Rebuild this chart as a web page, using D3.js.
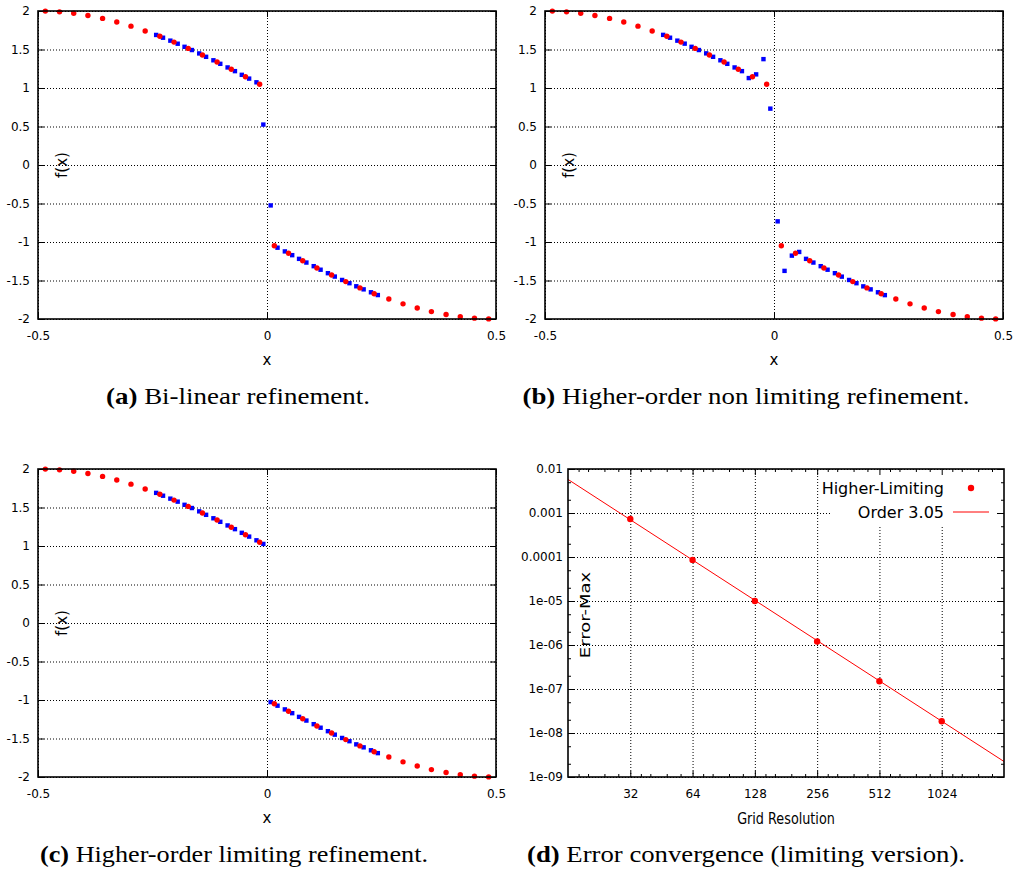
<!DOCTYPE html>
<html><head><meta charset="utf-8">
<script src="https://cdn.jsdelivr.net/npm/d3@7"></script>
<style>
body{margin:0;background:#fff;}
svg{display:block;}
</style></head><body>
<svg id="chart" width="1019" height="876"></svg>
<script>
// ---------- data ----------
const coarseX = [-0.484,-0.453,-0.422,-0.391,-0.359,-0.328,-0.297,-0.266,-0.234,-0.203,-0.172,-0.141,-0.109,-0.078,-0.047,-0.016,
                 0.016,0.047,0.078,0.109,0.141,0.172,0.203,0.234,0.266,0.297,0.328,0.359,0.391,0.422,0.453,0.484];
const coarseF = [1.999,1.989,1.970,1.942,1.904,1.858,1.803,1.741,1.672,1.596,1.514,1.428,1.337,1.243,1.147,1.049,
                 -1.049,-1.147,-1.243,-1.337,-1.428,-1.514,-1.596,-1.672,-1.741,-1.803,-1.858,-1.904,-1.942,-1.970,-1.989,-1.999];
const fineX = [-0.242,-0.227,-0.211,-0.195,-0.180,-0.164,-0.148,-0.133,-0.117,-0.102,-0.086,-0.070,-0.055,-0.039,-0.023,-0.008,
               0.008,0.023,0.039,0.055,0.070,0.086,0.102,0.117,0.133,0.148,0.164,0.180,0.195,0.211,0.227,0.242];
const fineBilinear = [1.689,1.653,1.615,1.575,1.535,1.493,1.449,1.405,1.360,1.314,1.267,1.219,1.171,1.122,1.074,0.525,
                      -0.525,-1.074,-1.122,-1.171,-1.219,-1.267,-1.314,-1.360,-1.405,-1.449,-1.493,-1.535,-1.575,-1.615,-1.653,-1.689];
const fineHigherNonLimiting = [1.690,1.653,1.615,1.576,1.535,1.493,1.450,1.405,1.360,1.314,1.267,1.219,1.129,1.177,1.375,0.732,
                      -0.732,-1.375,-1.177,-1.129,-1.219,-1.267,-1.314,-1.360,-1.405,-1.450,-1.493,-1.535,-1.576,-1.615,-1.653,-1.690];
const fineHigherLimiting = [1.690,1.653,1.615,1.576,1.535,1.493,1.450,1.405,1.360,1.314,1.267,1.219,1.171,1.122,1.074,1.027,
                      -1.027,-1.074,-1.122,-1.171,-1.219,-1.267,-1.314,-1.360,-1.405,-1.450,-1.493,-1.535,-1.576,-1.615,-1.653,-1.690];
const xTicksF = [-0.5, 0, 0.5];
const xTickLabelsF = ["-0.5", "0", "0.5"];
const yTicksF = [2, 1.5, 1, 0.5, 0, -0.5, -1, -1.5, -2];
const yTickLabelsF = ["2", "1.5", "1", "0.5", "0", "-0.5", "-1", "-1.5", "-2"];

const gridRes = [32, 64, 128, 256, 512, 1024];
const errMax = [7.3e-4, 8.6e-5, 1.0e-5, 1.2e-6, 1.5e-7, 1.85e-8];
const fitRes = [16, 2048];
const fitErr = [5.8e-3, 2.25e-9];
const errTicks = [1e-2, 1e-3, 1e-4, 1e-5, 1e-6, 1e-7, 1e-8, 1e-9];
const errTickLabels = ["0.01", "0.001", "0.0001", "1e-05", "1e-06", "1e-07", "1e-08", "1e-09"];
const resTickLabels = ["32", "64", "128", "256", "512", "1024"];
const errMinorMult = [2, 5];
const resMinorMult = [1.125, 1.25, 1.5, 1.75];
const legendLabels = ["Higher-Limiting", "Order 3.05"];
const captions = [
  ["(a)", " Bi-linear refinement."],
  ["(b)", " Higher-order non limiting refinement."],
  ["(c)", " Higher-order limiting refinement."],
  ["(d)", " Error convergence (limiting version)."]
];

// ---------- drawing ----------
const SANS = "'DejaVu Sans', Verdana, sans-serif";
const SERIF = "'Liberation Serif', 'Times New Roman', serif";
const svg = d3.select("#chart");
svg.append("rect").attr("width", 1019).attr("height", 876).attr("fill", "#fff");

function gridStyle(sel) {
  sel.select(".domain").remove();
  sel.selectAll("line").attr("stroke", "#000").attr("stroke-width", 1).attr("stroke-dasharray", "1,2");
}
function tickStyle(sel, fs) {
  sel.select(".domain").remove();
  sel.selectAll("line").attr("stroke", "#000").attr("stroke-width", 1);
  sel.selectAll("text").attr("fill", "#000").style("font-family", SANS).style("font-size", (fs || 12) + "px");
}
function label(map, keys) { return d => map[keys.indexOf(d)]; }

function caption(cx, cy, width, parts) {
  const t = svg.append("text").attr("x", cx).attr("y", cy).attr("text-anchor", "middle")
    .style("font-family", SERIF).style("font-size", "23px").attr("fill", "#000")
    .attr("textLength", width).attr("lengthAdjust", "spacingAndGlyphs");
  t.append("tspan").style("font-weight", "bold").text(parts[0]);
  t.append("tspan").text(parts[1]);
}

function fxPanel(left, top, fineVals) {
  const W = 458, H = 308;
  const g = svg.append("g").attr("transform", `translate(${left},${top})`);
  const x = d3.scaleLinear().domain([-0.5, 0.5]).range([0, W]);
  const y = d3.scaleLinear().domain([-2, 2]).range([H, 0]);

  g.append("g").call(d3.axisLeft(y).tickValues(yTicksF).tickSize(-W).tickFormat("")).call(gridStyle);
  g.append("g").attr("transform", `translate(0,${H})`)
    .call(d3.axisBottom(x).tickValues(xTicksF).tickSize(-H).tickFormat("")).call(gridStyle);

  g.append("g").call(d3.axisLeft(y).tickValues(yTicksF).tickSize(-6).tickPadding(8)
    .tickFormat(label(yTickLabelsF, yTicksF))).call(s => tickStyle(s, 12));
  g.append("g").attr("transform", `translate(${W},0)`)
    .call(d3.axisRight(y).tickValues(yTicksF).tickSize(-6).tickFormat("")).call(s => tickStyle(s));
  g.append("g").call(d3.axisTop(x).tickValues(xTicksF).tickSize(-6).tickFormat("")).call(s => tickStyle(s));
  g.append("g").attr("transform", `translate(0,${H})`)
    .call(d3.axisBottom(x).tickValues(xTicksF).tickSize(-6).tickPadding(12)
    .tickFormat(label(xTickLabelsF, xTicksF))).call(s => tickStyle(s, 12));

  // fine (blue squares)
  const s = 4.4;
  g.append("g").selectAll("rect").data(fineX).join("rect")
    .attr("x", (d) => x(d) - s / 2).attr("y", (d, i) => y(fineVals[i]) - s / 2)
    .attr("width", s).attr("height", s).attr("fill", "#0000ff");
  // coarse (red dots)
  g.append("g").selectAll("circle").data(coarseX).join("circle")
    .attr("cx", d => x(d)).attr("cy", (d, i) => y(coarseF[i])).attr("r", 2.7).attr("fill", "#ff0000");

  g.append("rect").attr("width", W).attr("height", H).attr("fill", "none")
    .attr("stroke", "#000").attr("stroke-width", 1.6);

  g.append("text").attr("x", W / 2).attr("y", H + 46).attr("text-anchor", "middle")
    .style("font-family", SANS).style("font-size", "15px").text("x");
  g.append("text").attr("transform", `translate(24,${154}) rotate(-90)`).attr("text-anchor", "middle")
    .attr("dy", "0.35em").style("font-family", SANS).style("font-size", "15px").text("f(x)");
}

function errPanel(left, top) {
  const W = 436, H = 308;
  const g = svg.append("g").attr("transform", `translate(${left},${top})`);
  const x = d3.scaleLog().base(2).domain([16, 2048]).range([0, W]);
  const y = d3.scaleLog().domain([1e-9, 1e-2]).range([H, 0]);

  g.append("g").call(d3.axisLeft(y).tickValues(errTicks).tickSize(-W).tickFormat("")).call(gridStyle);
  g.append("g").attr("transform", `translate(0,${H})`)
    .call(d3.axisBottom(x).tickValues(gridRes).tickSize(-H).tickFormat("")).call(gridStyle);

  // legend box hides grid
  g.append("rect").attr("x", 264).attr("y", 1).attr("width", 165).attr("height", 55).attr("fill", "#fff");

  const yMinor = [];
  errTicks.slice(1).forEach(t => errMinorMult.forEach(m => yMinor.push(t * m)));
  const xMinor = [];
  [16].concat(gridRes).forEach(t => resMinorMult.forEach(m => { if (t * m < 2048) xMinor.push(t * m); }));

  g.append("g").call(d3.axisLeft(y).tickValues(errTicks).tickSize(-6).tickPadding(5)
    .tickFormat(label(errTickLabels, errTicks))).call(s => tickStyle(s, 12));
  g.append("g").call(d3.axisLeft(y).tickValues(yMinor).tickSize(-3).tickFormat("")).call(s => tickStyle(s));
  g.append("g").attr("transform", `translate(${W},0)`)
    .call(d3.axisRight(y).tickValues(errTicks).tickSize(-6).tickFormat("")).call(s => tickStyle(s));
  g.append("g").attr("transform", `translate(${W},0)`)
    .call(d3.axisRight(y).tickValues(yMinor).tickSize(-3).tickFormat("")).call(s => tickStyle(s));
  g.append("g").attr("transform", `translate(0,${H})`)
    .call(d3.axisBottom(x).tickValues(gridRes).tickSize(-6).tickPadding(12)
    .tickFormat(label(resTickLabels, gridRes))).call(s => tickStyle(s, 12));
  g.append("g").attr("transform", `translate(0,${H})`)
    .call(d3.axisBottom(x).tickValues(xMinor).tickSize(-3).tickFormat("")).call(s => tickStyle(s));
  g.append("g").call(d3.axisTop(x).tickValues(gridRes).tickSize(-6).tickFormat("")).call(s => tickStyle(s));
  g.append("g").call(d3.axisTop(x).tickValues(xMinor).tickSize(-3).tickFormat("")).call(s => tickStyle(s));

  const line = d3.line().x(d => x(d[0])).y(d => y(d[1]));
  g.append("path").datum(fitRes.map((r, i) => [r, fitErr[i]])).attr("d", line)
    .attr("fill", "none").attr("stroke", "#ff0000").attr("stroke-width", 1);
  g.append("g").selectAll("circle").data(gridRes).join("circle")
    .attr("cx", d => x(d)).attr("cy", (d, i) => y(errMax[i])).attr("r", 3.2).attr("fill", "#ff0000");

  g.append("rect").attr("width", W).attr("height", H).attr("fill", "none")
    .attr("stroke", "#000").attr("stroke-width", 1.6);

  // legend
  g.append("text").attr("x", 376).attr("y", 25).attr("text-anchor", "end")
    .style("font-family", SANS).style("font-size", "16px").text(legendLabels[0]);
  g.append("circle").attr("cx", 403).attr("cy", 19).attr("r", 3.2).attr("fill", "#ff0000");
  g.append("text").attr("x", 376).attr("y", 49).attr("text-anchor", "end")
    .style("font-family", SANS).style("font-size", "16px").text(legendLabels[1]);
  g.append("line").attr("x1", 385).attr("x2", 421).attr("y1", 43).attr("y2", 43)
    .attr("stroke", "#ff0000").attr("stroke-width", 1);

  g.append("text").attr("transform", `translate(218,${H + 47}) scale(0.8,1)`).attr("text-anchor", "middle")
    .style("font-family", SANS).style("font-size", "16px").text("Grid Resolution");
  g.append("text").attr("transform", `translate(17,${146}) rotate(-90) scale(1,0.8)`).attr("text-anchor", "middle")
    .attr("dy", "0.35em").style("font-family", SANS).style("font-size", "18px").text("Error-Max");
}

fxPanel(38, 11, fineBilinear);
fxPanel(545, 11, fineHigherNonLimiting);
fxPanel(38, 469, fineHigherLimiting);
errPanel(568, 469);

caption(238, 404, 264, captions[0]);
caption(746, 404, 447, captions[1]);
caption(234, 862, 388, captions[2]);
caption(746, 862, 438, captions[3]);
</script>
</body></html>
